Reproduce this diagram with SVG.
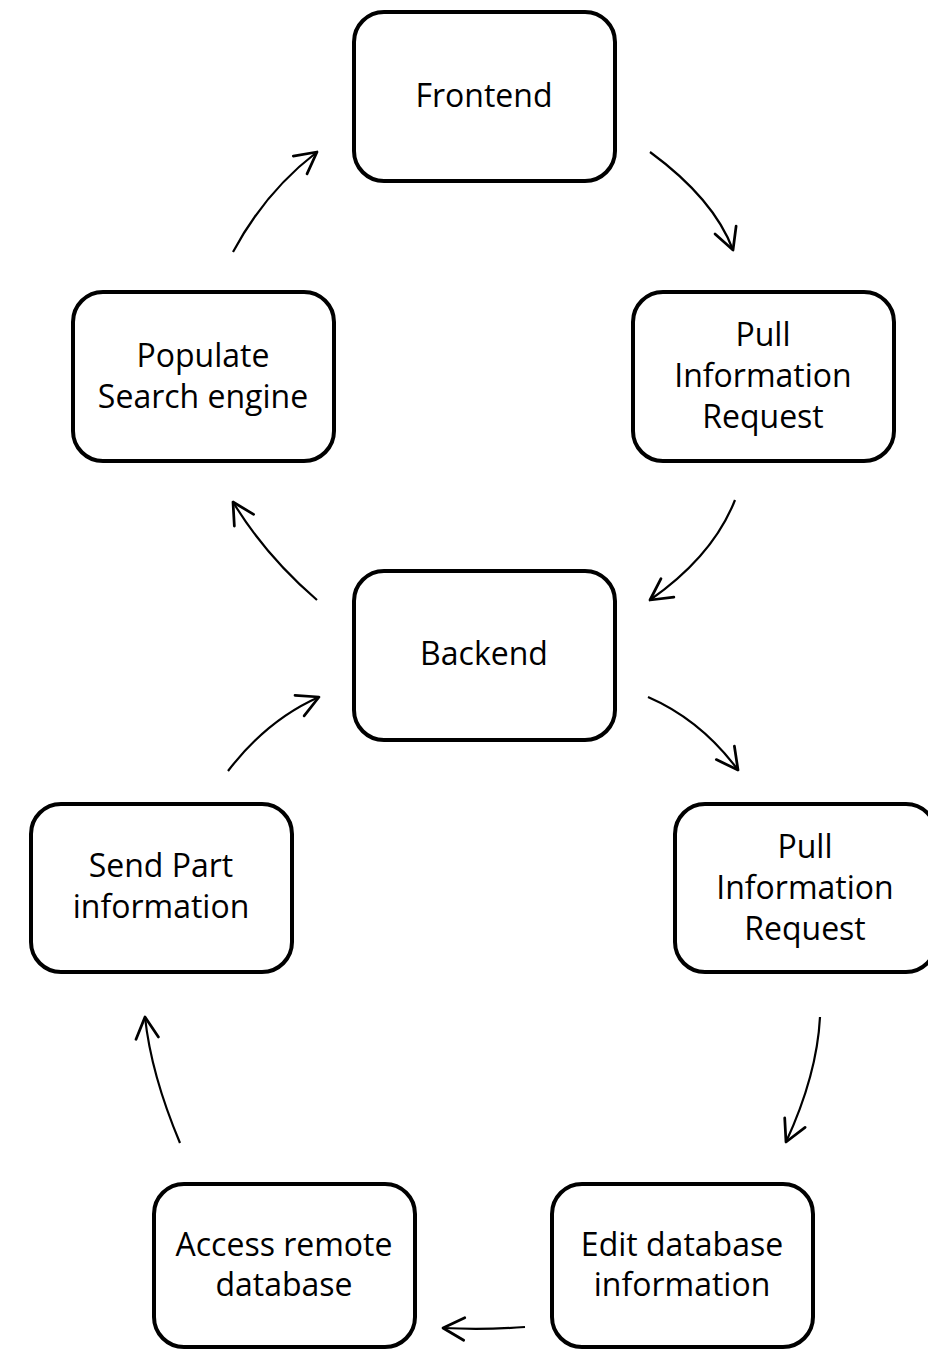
<svg xmlns="http://www.w3.org/2000/svg" width="928" height="1351" viewBox="0 0 928 1351">
<style>
.box{fill:#fff;stroke:#000;stroke-width:4}
.lbl{font-family:"Open Sans","Liberation Sans",sans-serif;font-size:32px;fill:#000;text-anchor:middle}
.con{fill:none;stroke:#000;stroke-width:2.2;marker-end:url(#arr)}
</style>
<defs>
<marker id="arr" markerUnits="userSpaceOnUse" markerWidth="30" markerHeight="30" refX="0" refY="0" viewBox="-20 -12 24 24" orient="auto" overflow="visible">
<path d="M-17,-9 L0,0 L-17,9" fill="none" stroke="#000" stroke-width="2.2" stroke-linecap="round" stroke-linejoin="round"/>
</marker>
</defs>
<rect width="928" height="1351" fill="#fff"/>
<g id="frontend"><rect class="box" x="354" y="12" width="261" height="169" rx="30"/><text class="lbl" x="484" y="107">Frontend</text></g>
<g id="pull1"><rect class="box" x="633" y="292" width="261" height="169" rx="30"/><text class="lbl" x="763" y="346">Pull</text><text class="lbl" x="763" y="387">Information</text><text class="lbl" x="763" y="428">Request</text></g>
<g id="populate"><rect class="box" x="73" y="292" width="261" height="169" rx="30"/><text class="lbl" x="203" y="367">Populate</text><text class="lbl" x="203" y="408">Search engine</text></g>
<g id="backend"><rect class="box" x="354" y="571" width="261" height="169" rx="30"/><text class="lbl" x="484" y="665">Backend</text></g>
<g id="sendpart"><rect class="box" x="31" y="804" width="261" height="168" rx="30"/><text class="lbl" x="161" y="877">Send Part</text><text class="lbl" x="161" y="918">information</text></g>
<g id="pull2"><rect class="box" x="675" y="804" width="261" height="168" rx="30"/><text class="lbl" x="805" y="858">Pull</text><text class="lbl" x="805" y="899">Information</text><text class="lbl" x="805" y="940">Request</text></g>
<g id="access"><rect class="box" x="154" y="1184" width="261" height="163" rx="30"/><text class="lbl" x="284" y="1256">Access remote</text><text class="lbl" x="284" y="1296">database</text></g>
<g id="edit"><rect class="box" x="552" y="1184" width="261" height="163" rx="30"/><text class="lbl" x="682" y="1256">Edit database</text><text class="lbl" x="682" y="1296">information</text></g>
<g id="connectors">
<path class="con" d="M650,152 Q714,199 733,250"/>
<path class="con" d="M233,252 Q265,192 317,152"/>
<path class="con" d="M735,500 Q713,556 650,600"/>
<path class="con" d="M317,600 Q265,555 233,502"/>
<path class="con" d="M648,697 Q701,720 738,770"/>
<path class="con" d="M228,771 Q267,720 319,697"/>
<path class="con" d="M820,1017 Q817,1075 786,1142"/>
<path class="con" d="M525,1327 Q484,1330 443,1328"/>
<path class="con" d="M180,1143 Q151,1074 145,1017"/>
</g>
</svg>
